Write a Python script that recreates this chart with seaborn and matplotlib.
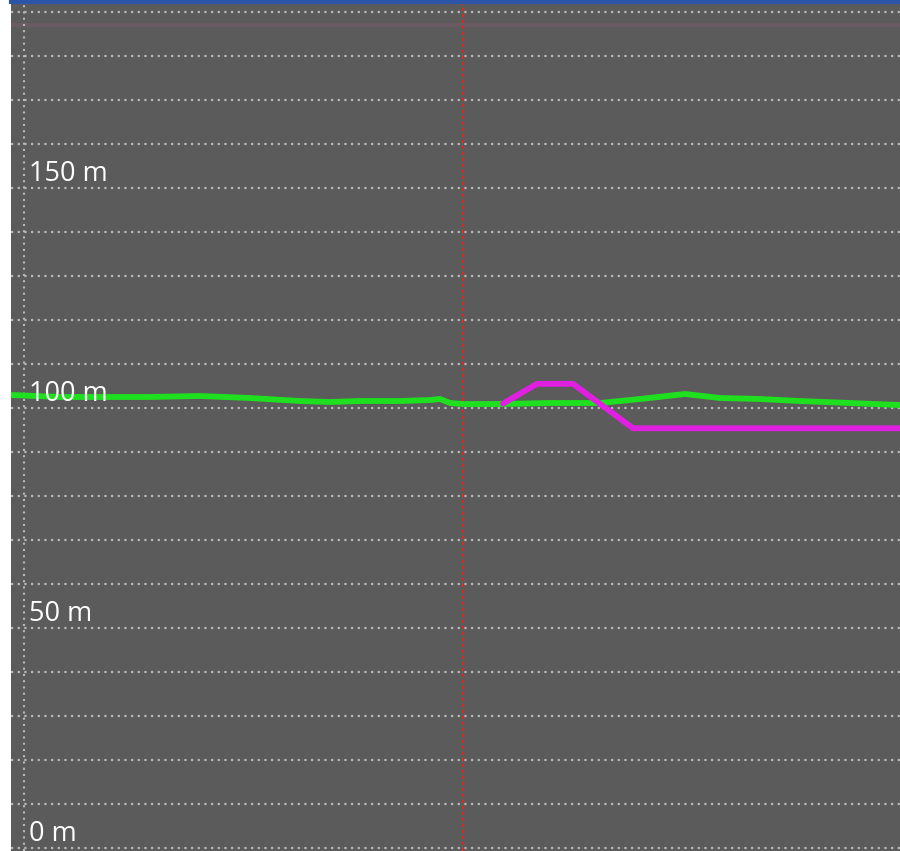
import matplotlib
matplotlib.use("Agg")
import matplotlib.pyplot as plt
import seaborn as sns
import pandas as pd

# ---- data (distance along profile, elevation in m) ----
terrain_dist = [0, 49, 89, 139, 189, 239, 289, 319, 349, 389, 419, 429, 439, 452,
                489, 539, 589, 629, 674, 709, 749, 789, 839, 889]
terrain_elev = [102.96, 102.51, 102.51, 102.51, 102.73, 102.28, 101.59, 101.37, 101.59,
                101.59, 101.82, 102.05, 101.14, 100.91, 100.91, 101.14, 101.14, 102.05,
                103.19, 102.28, 102.05, 101.59, 101.14, 100.68]
route_dist = [492, 526, 562, 622, 889]
route_elev = [101.0, 105.5, 105.5, 95.4, 95.4]

y_ticks = [0, 50, 100, 150]
y_tick_labels = ["0 m", "50 m", "100 m", "150 m"]
grid_levels = list(range(0, 200, 10))
cursor_dist = 452
left_grid_dist = 13

terrain = pd.DataFrame({"dist": terrain_dist, "elev": terrain_elev})
route = pd.DataFrame({"dist": route_dist, "elev": route_elev})

sns.set_theme(style="dark")
plt.rcParams["font.family"] = ["Open Sans", "DejaVu Sans"]

fig = plt.figure(figsize=(9, 8.51), dpi=100)
fig.patch.set_facecolor("white")
W, H = 900, 851
ax = fig.add_axes([11 / W, 0, 889 / W, 849 / H])
ax.set_facecolor("#5b5b5b")

grid_color = "#b8b8b8"
for g in grid_levels:
    ax.axhline(g, color=grid_color, lw=1.6, ls=(0, (1, 2.0)), zorder=1)
ax.axvline(left_grid_dist, color=grid_color, lw=1.5, ls=(0, (1, 2.0)), zorder=1)
ax.axhline(187.0, color="#6a5a62", lw=3, zorder=0.5)
ax.axvline(cursor_dist, color="#cc2e28", lw=1.6, ls=(0, (1.5, 1.2)), zorder=2)

sns.lineplot(data=terrain, x="dist", y="elev", ax=ax, color="#1fe01f", lw=4.2,
             sort=False, zorder=3)
sns.lineplot(data=route, x="dist", y="elev", ax=ax, color="#e020e0", lw=4.2,
             sort=False, zorder=4)

for t, lab in zip(y_ticks, y_tick_labels):
    ax.text(18, t + 1.6, lab, color="white", fontsize=19.5, va="baseline",
            ha="left", zorder=5)

ax.set_xlim(0, 889)
ax.set_ylim(-0.7, 192.3)
ax.set_xticks([])
ax.set_yticks([])
ax.set_xlabel("")
ax.set_ylabel("")
ax.grid(False)
for s in ["left", "right", "bottom"]:
    ax.spines[s].set_visible(False)
ax.spines["top"].set_color("#2c55a8")
ax.spines["top"].set_linewidth(3.0)

fig.savefig("out.png", dpi=100)
